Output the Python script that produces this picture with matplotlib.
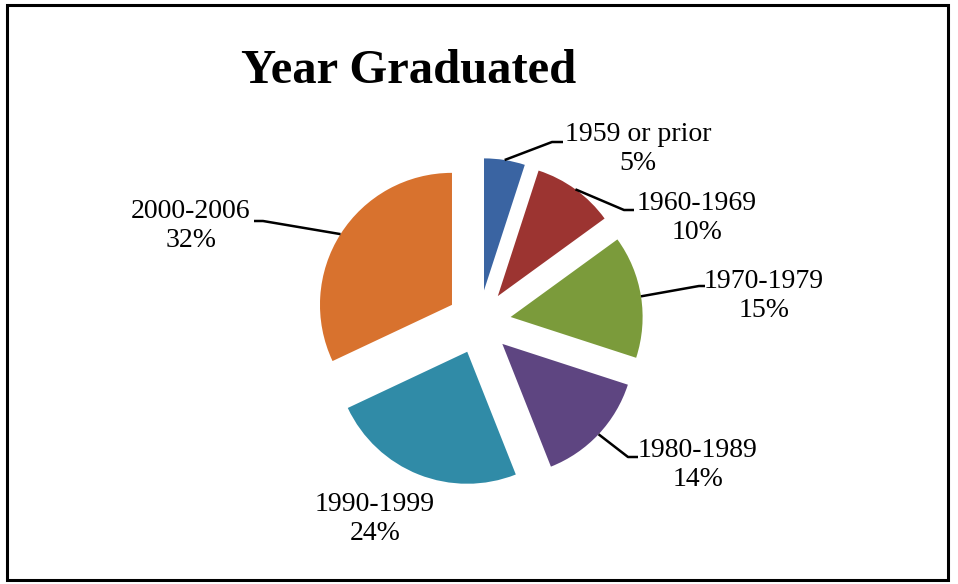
import numpy as np
import matplotlib
matplotlib.use("Agg")
import matplotlib.pyplot as plt
from matplotlib.patches import Rectangle

# Datos del gráfico
categorias = ["1959 or prior", "1960-1969", "1970-1979", "1980-1989", "1990-1999", "2000-2006"]
porcentajes = [5, 10, 15, 14, 24, 32]
colores = ["#3a64a2", "#9c3431", "#7b9b3b", "#5e4581", "#308ba7", "#d8722e"]

# Posición de cada etiqueta (píxeles) y codo de la línea guía (None = sin línea)
pos_etiquetas = [(638, 149), (697, 218), (764, 296), (698, 465), (375, 519), (191, 226)]
codos = [((552, 142), (563, 142)), ((624, 210), (634, 210)), ((699, 286), (705, 286)),
         ((628, 457), (638, 457)), None, ((263, 221), (254, 221))]

ANCHO, ALTO = 958, 584
CX, CY, R, DESP = 479, 322, 132, 32

plt.rcParams['font.family'] = ['Liberation Serif', 'DejaVu Serif']

fig = plt.figure(figsize=(ANCHO / 100, ALTO / 100), dpi=100)
ax = fig.add_axes([0, 0, 1, 1])

def py(y):
    # píxel (desde arriba) -> coordenada de datos (desde abajo)
    return ALTO - y

cunas, _ = ax.pie(porcentajes, colors=colores, startangle=90, counterclock=False,
                  center=(CX, py(CY)), radius=R, explode=[DESP] * len(porcentajes),
                  wedgeprops=dict(linewidth=0))

ax.set_xlim(0, ANCHO)
ax.set_ylim(0, ALTO)
ax.set_aspect('equal')
ax.axis('off')

# Etiquetas y líneas guía
for cuna, cat, pct, (tx, ty), codo in zip(cunas, categorias, porcentajes, pos_etiquetas, codos):
    ax.text(tx, py(ty), f"{cat}\n{pct}%", ha='center', va='center', fontsize=20,
            linespacing=1.25, color='black')
    if codo is None:
        continue
    ang = np.deg2rad((cuna.theta1 + cuna.theta2) / 2)
    x0 = cuna.center[0] + R * np.cos(ang)
    y0 = cuna.center[1] + R * np.sin(ang)
    (ex, ey), (fx, fy) = codo
    ax.plot([x0, ex, fx], [y0, py(ey), py(fy)], color='black', lw=1.8,
            solid_capstyle='butt')

ax.text(409, py(71), "Year Graduated", ha='center', va='center', fontsize=35,
        fontweight='bold')

# Marco exterior
fig.patches.append(Rectangle((7 / ANCHO, 4 / ALTO), 941 / ANCHO, 575 / ALTO,
                             transform=fig.transFigure, fill=False,
                             edgecolor='black', linewidth=2.2))

fig.savefig("out.png", dpi=100)
